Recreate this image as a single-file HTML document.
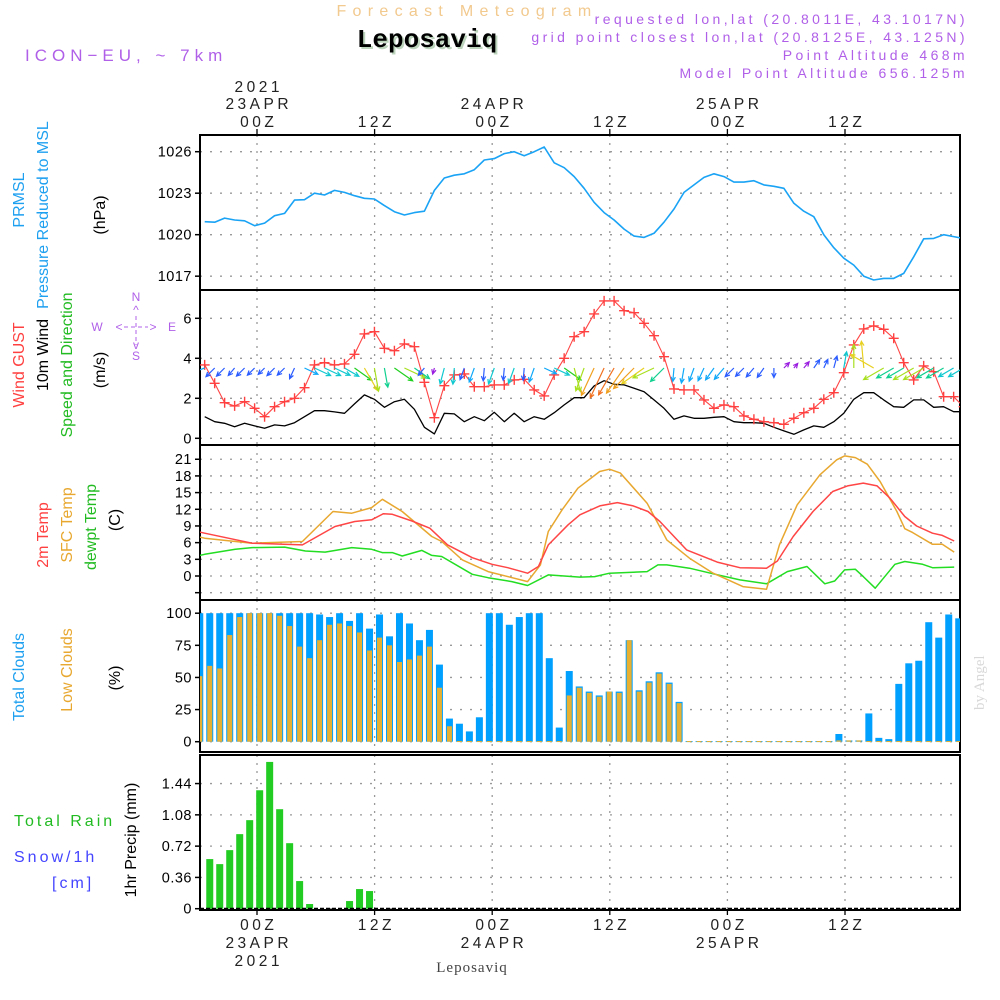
<!DOCTYPE html>
<html><head><meta charset="utf-8">
<style>
html,body{margin:0;padding:0;background:#fff;}
svg{display:block;font-family:"Liberation Sans",sans-serif;}
</style></head>
<body>
<svg id="chart" width="1000" height="1000" viewBox="0 0 1000 1000" xmlns="http://www.w3.org/2000/svg">
  <text x="467" y="16" text-anchor="middle" font-size="16" fill="#f2c98e" letter-spacing="6.3">Forecast Meteogram</text>
  <text x="429" y="49" text-anchor="middle" font-size="26" font-weight="bold" font-family="Liberation Mono, monospace" fill="#bcd4bc">Leposaviq</text>
  <text x="427" y="47" text-anchor="middle" font-size="26" font-weight="bold" font-family="Liberation Mono, monospace" fill="#000">Leposaviq</text>
  <text x="25" y="61" font-size="17" fill="#b060e8" letter-spacing="5">ICON−EU,  ~  7km</text>
  <g fill="#b060e8" font-size="14" text-anchor="end" letter-spacing="3.4">
    <text x="968" y="24">requested lon,lat (20.8011E, 43.1017N)</text>
    <text x="968" y="42">grid point closest lon,lat (20.8125E, 43.125N)</text>
    <text x="968" y="60">Point Altitude 468m</text>
    <text x="968" y="78">Model Point Altitude 656.125m</text>
  </g>
  <g id="axes"></g>
  <g id="marks"></g>
  <g id="labels" font-size="15"></g>
  <text transform="translate(984,710) rotate(-90)" font-size="15" font-family="Liberation Serif, serif" fill="#d8d8d8">by Angel</text>
  <text x="472" y="972" text-anchor="middle" font-size="15" font-family="Liberation Serif, serif" fill="#444" letter-spacing="1">Leposaviq</text>
</svg>
<script>
// ---------- data ----------
const T0 = -5.34, DT = 1.019;           // hourly data time grid (hours from 23APR 00Z)
const pressure = [1020.94,1020.9,1021.2,1021.06,1021.0,1020.65,1020.84,1021.37,1021.54,1022.5,1022.53,1023.0,1022.87,1023.2,1023.06,1022.82,1022.63,1022.58,1022.1,1021.66,1021.42,1021.6,1021.7,1023.2,1024.1,1024.3,1024.4,1024.7,1025.4,1025.5,1025.86,1026.0,1025.7,1026.0,1026.34,1025.2,1024.84,1024.2,1023.35,1022.34,1021.6,1021.06,1020.4,1019.9,1019.8,1020.1,1020.9,1021.86,1023.06,1023.6,1024.14,1024.4,1024.2,1023.8,1023.8,1023.9,1023.6,1023.5,1023.35,1022.27,1021.7,1021.3,1020.0,1019.06,1018.3,1017.8,1017.0,1016.72,1016.84,1016.84,1017.2,1018.4,1019.7,1019.73,1020.0,1019.86,1019.73];
const gust = [3.67,2.75,1.78,1.62,1.83,1.5,1.08,1.58,1.83,2.0,2.53,3.67,3.78,3.67,3.72,4.2,5.22,5.33,4.5,4.38,4.72,4.58,2.8,1.03,2.63,3.17,3.22,2.58,2.58,2.67,2.67,2.92,2.95,2.42,2.12,3.17,4.0,5.08,5.33,6.22,6.87,6.87,6.38,6.28,5.75,5.13,4.08,2.47,2.42,2.42,1.92,1.5,1.67,1.58,1.12,0.95,0.83,0.78,0.7,1.0,1.28,1.5,1.95,2.28,3.28,4.67,5.47,5.62,5.45,5.0,3.78,2.92,3.62,3.33,2.08,2.08,1.58];
const windSpeed = [1.08,0.83,0.75,0.58,0.75,0.62,0.5,0.67,0.62,0.78,1.08,1.38,1.38,1.32,1.25,1.72,2.17,1.95,1.55,1.83,1.95,1.45,0.55,0.22,1.25,1.22,0.83,1.08,0.88,1.3,0.83,1.25,0.83,1.08,0.95,1.28,1.67,2.03,2.03,2.62,2.88,2.7,2.67,2.5,2.33,1.92,1.5,0.95,1.12,1.0,1.0,1.05,1.08,0.83,0.78,0.78,0.75,0.55,0.37,0.2,0.42,0.62,0.55,0.83,1.25,1.95,2.28,2.28,1.92,1.58,1.55,1.92,1.92,1.55,1.58,1.33,1.33];
const windDir = [250,225,225,220,225,225,225,225,225,205,115,115,115,115,120,125,150,170,170,125,115,125,220,195,195,185,200,200,185,200,185,200,185,200,115,115,125,165,200,205,205,210,215,225,235,245,225,185,190,200,205,215,220,225,225,220,215,180,45,40,40,35,25,15,10,0,355,300,240,240,240,240,240,240,240,240,240];
const t2mHours = [-5.8,-5.3,-0.5,4.6,7.9,9.9,11.6,12.8,13.7,15.7,17.5,19.3,21.8,23.8,25.4,27.4,28.5,29.5,31.5,32.7,34.7,36.5,38.1,39.6,40.8,43.5,46.6,48.9,51.6,52.7,54.3,56.3,58.3,59.8,61.4,62.8,64.1,65.6,66.8,68.4,69.4,70.6];
const t2m = [7.9,7.7,5.9,5.6,8.9,9.8,10.1,11.2,11.1,9.9,8.6,5.6,3.3,2.1,1.5,0.5,1.7,5.6,9.2,11,12.6,13.2,12.6,11.6,9.8,4.7,2.5,1.5,1.4,2.7,7.1,11.6,15.2,16.2,16.7,16.2,14,10.7,9,7.7,7.3,6.3];
const sfcHours = [-5.8,-5.3,-0.5,4.6,7.7,9.6,11.6,12.7,14.7,17.7,18.7,20.8,23.4,27.4,28.7,29.5,30.9,32.5,34.7,35.7,36.8,39.5,41.5,43.8,46.2,49.2,51.6,52.9,54.7,57,58.7,59.5,60.6,61.8,63.1,64.8,65.6,66.4,68.4,69.4,70.6];
const sfcT = [7.0,6.8,5.9,6.2,11.6,11.3,12.3,13.8,11.6,7.1,6.2,2.9,0.8,-1.0,2,8,11.9,15.8,18.8,19.2,18.5,13.1,6.5,3.2,0.5,-1.9,-2.4,5.6,12.8,18.2,20.9,21.6,21.3,20.1,17,11.6,8.5,7.8,5.7,5.7,4.3];
const dewHours = [-5.8,-5.3,-2.2,-0.5,2.8,4.9,6.9,9.6,11.6,12.7,13.7,14.7,16.7,17.7,18.7,21.8,23.4,25.8,27.4,29.5,32.7,34.2,35.7,39.5,40.6,41.5,43.8,46.2,48.9,51.6,53.7,55.7,57.5,58.5,59.5,60.6,61.4,62.6,64.6,65.6,67.4,68.4,70.6];
const dewT = [3.7,3.9,4.8,5.1,5.2,4.5,4.3,5.1,4.8,4.2,4.2,3.6,4.6,3.7,3.5,0.3,-0.3,-1.0,-1.7,0.2,-0.2,-0.1,0.5,0.8,2.0,2.0,1.4,0.4,-0.7,-1.4,0.8,1.7,-1.4,-0.9,1.1,1.2,-0.1,-2.2,2.1,2.6,2.1,1.5,1.6];
const totalClouds = [100,100,100,100,100,100,100,100,100,100,100,100,99,97,100,94,100,88,99,82,100,92,79,87,60,18,14,8,19,100,100,91,97,100,100,65,11,55,43,39,36,39,39,79,40,47,54,46,31,0.5,0.5,0.5,0.5,0.5,0.5,0.5,0.5,0.5,0.5,0.5,0.5,0.5,0.5,0.5,6,1,1,22,3,2,45,61,63,93,81,99,96];
const lowClouds = [51,59,57,83,97,100,100,100,98,90,74,65,79,91,92,90,85,71,81,75,62,64,67,74,42,12,0.5,0.5,0.5,0.5,0.5,0.5,0.5,0.5,0.5,0.5,0.5,36,42,38,35,39,38,79,39,46,53,45,30,0.5,0.5,0.5,0.5,0.5,0.5,0.5,0.5,0.5,0.5,0.5,0.5,0.5,0.5,0.5,1,1,1,0.5,0.5,0.5,0.5,0.5,0.5,0.5,0.5,0.5,0.5];
const precip = [0,0.571,0.513,0.674,0.858,1.019,1.363,1.689,1.145,0.754,0.318,0.054,0,0,0,0.088,0.226,0.203];
const timeTickHours = [0,12,24,36,48,60];
const timeTickLabels = ["00Z","12Z","00Z","12Z","00Z","12Z"];
const dateLabels = {0:"23APR",24:"24APR",48:"25APR"};
const pTicks = [1017,1020,1023,1026];
const wTicks = [0,2,4,6];
const tTicks = [-3,0,3,6,9,12,15,18,21];
const cTicks = [0,25,50,75,100];
const rTicks = [0,0.36,0.72,1.08,1.44];

// ---------- scales ----------
const X0 = 200, X1 = 960;
const xh = h => 257 + 9.8*h;
const xRead = h => 257 + 9.875*h;   // temperature hours were read on this grid
const tk = k => T0 + k*DT;
const yP = p => 151.7 + (1026-p)*13.83;
const yW = v => 438.3 - 20*v;
const yT = t => 576 - 5.56*t;
const yC = c => 741.7 - 1.285*c;
const yR = r => 908.7 - 86.9*r;
const panels = [
  {name:"pressure-panel", top:135, bot:290, ticks:pTicks, y:yP, fmt:v=>String(v)},
  {name:"wind-panel", top:290, bot:445, ticks:wTicks, y:yW, fmt:v=>String(v)},
  {name:"temperature-panel", top:445, bot:600, ticks:tTicks, y:yT, fmt:v=>v<0?"":String(v)},
  {name:"clouds-panel", top:600, bot:752, ticks:cTicks, y:yC, fmt:v=>String(v)},
  {name:"precip-panel", top:755, bot:910, ticks:rTicks, y:yR, fmt:v=>v===0?"0":v.toFixed(2)}
];
const NS = "http://www.w3.org/2000/svg";
function mk(tag, attrs, parent){
  const e = document.createElementNS(NS, tag);
  for (const k in attrs) e.setAttribute(k, attrs[k]);
  parent.appendChild(e);
  return e;
}
const axes = document.getElementById('axes');
const marks = document.getElementById('marks');
const labels = document.getElementById('labels');
const defs = mk('defs', {}, document.getElementById('chart'));

panels.forEach((p, i) => {
  const cp = mk('clipPath', {id:'clip'+i}, defs);
  mk('rect', {x:X0, y:p.top, width:X1-X0, height:p.bot-p.top}, cp);
  timeTickHours.forEach(h => {
    const g = mk('line', {x1:xh(h), x2:xh(h), y1:p.top, y2:p.bot, stroke:'#999', 'stroke-width':1.3, 'stroke-dasharray':'2,6'}, axes);
    
    
  });
  p.ticks.forEach(v => {
    const y = p.y(v);
    const gl = mk('line', {x1:X0, x2:X1, y1:y, y2:y, stroke:'#999', 'stroke-width':1.3, 'stroke-dasharray':'2,8'}, axes);
    
    
    mk('line', {x1:X0-5, x2:X0, y1:y, y2:y, stroke:'#000', 'stroke-width':1.5}, axes);
    const s = p.fmt(v);
    if (s) {
      const t = mk('text', {x:X0-8, y:y+5, 'text-anchor':'end', 'font-size':14.5, fill:'#000', 'letter-spacing':0.5}, axes);
      t.textContent = s;
      
      
    }
  });
  const fr = mk('rect', {x:X0, y:p.top, width:X1-X0, height:p.bot-p.top, fill:'none', stroke:'#000', 'stroke-width':2}, axes);
  
  
});

const LS = 3.5;
timeTickHours.forEach((h, i) => {
  const x = xh(h);
  mk('line', {x1:x, x2:x, y1:129, y2:135, stroke:'#000', 'stroke-width':1.3}, axes);
  mk('line', {x1:x, x2:x, y1:910, y2:915, stroke:'#000', 'stroke-width':1.3}, axes);
  const a = mk('text', {x:x+LS/2, y:127, 'text-anchor':'middle', 'font-size':15.5, fill:'#222', 'letter-spacing':LS}, axes);
  a.textContent = timeTickLabels[i];
  
  
  const b = mk('text', {x:x+LS/2, y:930, 'text-anchor':'middle', 'font-size':15.5, fill:'#222', 'letter-spacing':LS}, axes);
  b.textContent = timeTickLabels[i];
  
  
  if (dateLabels[h]) {
    const d = mk('text', {x:x+LS/2, y:109, 'text-anchor':'middle', 'font-size':15.5, fill:'#222', 'letter-spacing':LS}, axes);
    d.textContent = dateLabels[h];
    
    
    const e = mk('text', {x:x+LS/2, y:948, 'text-anchor':'middle', 'font-size':15.5, fill:'#222', 'letter-spacing':LS}, axes);
    e.textContent = dateLabels[h];
    
    
  }
  if (h === 0) {
    const y1 = mk('text', {x:x+LS/2, y:92, 'text-anchor':'middle', 'font-size':15.5, fill:'#222', 'letter-spacing':LS}, axes);
    y1.textContent = "2021";
    
    
    const y2 = mk('text', {x:x+LS/2, y:966, 'text-anchor':'middle', 'font-size':15.5, fill:'#222', 'letter-spacing':LS}, axes);
    y2.textContent = "2021";
    
    
  }
});

function gclip(i){ return mk('g', {'clip-path':'url(#clip'+i+')'}, marks); }
function poly(parent, xf, vals, yf, color, w, name){
  const pts = vals.map((v,k) => xf(k).toFixed(1)+','+yf(v).toFixed(1)).join(' ');
  const e = mk('polyline', {points:pts, fill:'none', stroke:color, 'stroke-width':w, 'stroke-linejoin':'round'}, parent);
  
  
  return e;
}
const xk = k => xh(tk(k));

// pressure
const g0 = gclip(0);
poly(g0, xk, pressure, yP, '#1aa3f5', 1.6, 'pressure-line');

// wind
const g1 = gclip(1);
poly(g1, xk, windSpeed, yW, '#000', 1.3, 'wind-speed-line');
poly(g1, xk, gust, yW, '#ff4545', 1.1, 'wind-gust-line');
gust.forEach((v,k) => {
  const x = xk(k), y = yW(v);
  const m = mk('path', {d:`M${x-5},${y}H${x+5}M${x},${y-5}V${y+5}`, stroke:'#ff4040', 'stroke-width':1.4, fill:'none'}, g1);
  
  
});
function windColor(s){
  if (s < 0.45) return '#9a1ee0';
  if (s < 0.9) return '#2a5cff';
  if (s < 1.15) return '#10a8f8';
  if (s < 1.4) return '#10c8d0';
  if (s < 1.65) return '#10d090';
  if (s < 1.9) return '#20d020';
  if (s < 2.1) return '#a8e020';
  if (s < 2.4) return '#e8d020';
  if (s < 2.7) return '#f0a020';
  return '#f07020';
}
windDir.forEach((d,k) => {
  const s = windSpeed[k];
  const L = 4 + 10*s;
  const x0 = xk(k), y0 = 368;
  const r = d*Math.PI/180;
  const x1 = x0 + L*Math.sin(r), y1 = y0 - L*Math.cos(r);
  const ha = 5, a1 = r + Math.PI - 0.45, a2 = r + Math.PI + 0.45;
  const p = `M${x0.toFixed(1)},${y0}L${x1.toFixed(1)},${y1.toFixed(1)}M${(x1+ha*Math.sin(a1)).toFixed(1)},${(y1-ha*Math.cos(a1)).toFixed(1)}L${x1.toFixed(1)},${y1.toFixed(1)}L${(x1+ha*Math.sin(a2)).toFixed(1)},${(y1-ha*Math.cos(a2)).toFixed(1)}`;
  const e = mk('path', {d:p, stroke:windColor(s), 'stroke-width':1.2, fill:'none'}, g1);
  
  
});

// temperature
const g2 = gclip(2);
poly(g2, k=>xRead(dewHours[k]), dewT, yT, '#22dd22', 1.5, 'dewpoint-line');
poly(g2, k=>xRead(sfcHours[k]), sfcT, yT, '#e8a830', 1.5, 'sfc-temp-line');
poly(g2, k=>xRead(t2mHours[k]), t2m, yT, '#ff4545', 1.5, 't2m-line');

// clouds
const g3 = gclip(3);
totalClouds.forEach((v,k) => {
  const x = xh(tk(k) - 0.5);
  const y = yC(v);
  const b = mk('rect', {x:x-3.5, y:y, width:7, height:Math.max(yC(0)-y,1), fill:'#00a0ff'}, g3);
  
  
  const yl = yC(lowClouds[k]);
  const c = mk('rect', {x:x-2.5, y:yl, width:5, height:Math.max(yC(0)-yl,1), fill:'#e8b030'}, g3);
  
  
});

// precipitation
const g4 = gclip(4);
precip.forEach((v,k) => {
  if (v <= 0) return;
  const x = xh(tk(k) - 0.5);
  const y = yR(v);
  const b = mk('rect', {x:x-3.5, y:y, width:7, height:yR(0)-y, fill:'#22cc22'}, g4);
  
  
});
mk('line', {x1:X0, x2:X1, y1:908.5, y2:908.5, stroke:'#000', 'stroke-width':1.5, 'stroke-dasharray':'4,2'}, g4);

// ---------- left labels ----------
function vlabel(x, y, parts, name, size){
  const t = mk('text', {transform:`translate(${x},${y}) rotate(-90)`, 'text-anchor':'middle', 'font-size':size||16}, labels);
  
  
  parts.forEach(([s,c]) => { const sp = mk('tspan', {fill:c}, t); sp.textContent = s; });
}
vlabel(24, 200, [["PRMSL","#1ea0f0"]], 'pressure-title');
vlabel(48, 215, [["Pressure  Reduced to MSL","#1ea0f0"]], 'pressure-subtitle');
vlabel(105, 215, [["(hPa)","#000"]], 'pressure-unit');
vlabel(24, 365, [["Wind GUST","#ff4040"]], 'gust-title');
vlabel(48, 355, [["10m Wind","#000"]], 'wind-title');
vlabel(72, 365, [["Speed and Direction","#22bb22"]], 'wind-subtitle');
vlabel(105, 370, [["(m/s)","#000"]], 'wind-unit');
vlabel(48, 535, [["2m Temp","#ff4040"]], 't2m-title');
vlabel(72, 525, [["SFC Temp","#e8a830"]], 'sfc-temp-title');
vlabel(96, 527, [["dewpt Temp","#22bb22"]], 'dewpoint-title');
vlabel(120, 520, [["(C)","#000"]], 'temp-unit');
vlabel(24, 677, [["Total Clouds","#1ea0f0"]], 'total-clouds-title');
vlabel(72, 670, [["Low Clouds","#e8a830"]], 'low-clouds-title');
vlabel(120, 678, [["(%)","#000"]], 'clouds-unit');
vlabel(136, 840, [["1hr Precip (mm)","#000"]], 'precip-unit');
const lbls = [["Total  Rain",14,826,"#22bb22","rain-title"],["Snow/1h",14,862,"#4444ff","snow-title"],["[cm]",52,888,"#4444ff","snow-unit"]];
lbls.forEach(([s,x,y,c,n]) => {
  const t = mk('text', {x:x, y:y, 'font-size':16, fill:c, 'letter-spacing':3}, labels);
  t.textContent = s;
  
  
});
// compass
const cg = mk('g', {fill:'#b060e8', 'font-size':12, 'text-anchor':'middle'}, labels);


[["N",136,301],["S",136,360],["W",97,331],["E",172,331],["<",119,331],[">",153,331],["^",136,314],["v",136,349]].forEach(([s,x,y]) => {
  const t = mk('text', {x:x, y:y}, cg); t.textContent = s;
});
mk('path', {d:'M124,327H148M136,316V345', stroke:'#b060e8', 'stroke-width':1, 'stroke-dasharray':'4,3'}, cg);
</script>
</body></html>
